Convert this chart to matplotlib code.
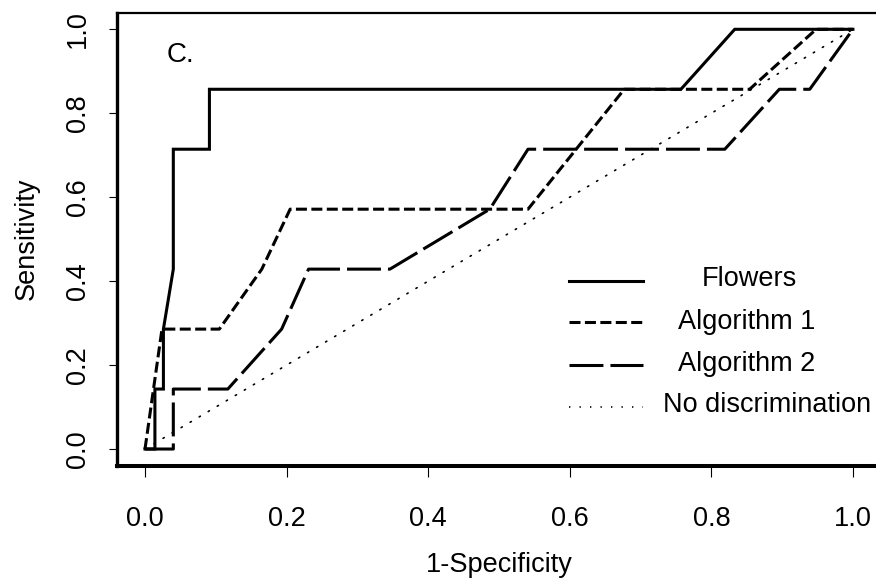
import matplotlib
matplotlib.use("Agg")
import matplotlib.pyplot as plt

plt.rcParams["font.family"] = ["Liberation Sans", "DejaVu Sans"]

# ROC curves (1-specificity, sensitivity)
fpr_flowers = [0, 0.014, 0.014, 0.026, 0.026, 0.040, 0.040, 0.091, 0.091, 0.757, 0.833, 1.0]
tpr_flowers = [0, 0, 0.1429, 0.1429, 0.2857, 0.4286, 0.7143, 0.7143, 0.8571, 0.8571, 1.0, 1.0]

fpr_alg1 = [0, 0.024, 0.105, 0.165, 0.205, 0.541, 0.677, 0.854, 0.948, 1.0]
tpr_alg1 = [0, 0.2857, 0.2857, 0.4286, 0.5714, 0.5714, 0.8571, 0.8571, 1.0, 1.0]

fpr_alg2 = [0, 0.040, 0.040, 0.078, 0.117, 0.193, 0.231, 0.346, 0.487, 0.541,
            0.819, 0.896, 0.939, 1.0]
tpr_alg2 = [0, 0, 0.1429, 0.1429, 0.1429, 0.2857, 0.4286, 0.4286, 0.5714, 0.7143,
            0.7143, 0.8571, 0.8571, 1.0]

diag = [0, 1]

ticks = [0.0, 0.2, 0.4, 0.6, 0.8, 1.0]
tick_labels = ["0.0", "0.2", "0.4", "0.6", "0.8", "1.0"]
legend_labels = ["Flowers", "Algorithm 1", "Algorithm 2", "No discrimination"]

styles = {
    "solid": dict(linestyle="-", linewidth=2.2),
    "short": dict(linestyle=(0, (3.6, 1.45)), linewidth=2.2),
    "long": dict(linestyle=(0, (11.1, 2.3)), linewidth=2.2),
    "dot": dict(linestyle=(0, (0.8, 5.5)), linewidth=1.2),
}

fig = plt.figure(figsize=(8.76, 5.79), dpi=100)
ax = fig.add_axes([0.1332, 0.1955, 0.8728, 0.7829])

ax.plot(fpr_flowers, tpr_flowers, color="black", solid_joinstyle="miter", **styles["solid"])
ax.plot(fpr_alg1, tpr_alg1, color="black", **styles["short"])
ax.plot(fpr_alg2, tpr_alg2, color="black", **styles["long"])
ax.plot(diag, diag, color="black", dash_capstyle="round", **styles["dot"])

ax.set_xlim(-0.04, 1.04)
ax.set_ylim(-0.04, 1.04)
ax.set_xticks(ticks)
ax.set_xticklabels(tick_labels)
ax.set_yticks(ticks)
ax.set_yticklabels(tick_labels)

ax.tick_params(axis="x", direction="out", length=8, width=0.8, pad=20.9, labelsize=19.5)
ax.tick_params(axis="y", direction="out", length=6, width=0.8, pad=12.3, labelsize=19.5,
               labelrotation=90)
for lab in ax.get_yticklabels():
    lab.set_verticalalignment("center")

ax.spines["top"].set_linewidth(1.6)
ax.spines["right"].set_linewidth(1.6)
ax.spines["left"].set_linewidth(2.4)
ax.spines["bottom"].set_linewidth(2.9)

ax.set_xlabel("1-Specificity", fontsize=19.5)
ax.xaxis.set_label_coords(0.5, -0.1895)
ax.set_ylabel("Sensitivity", fontsize=19.5)
ax.yaxis.set_label_coords(-0.1007, 0.5)

ax.text(0.0654, 0.8915, "C.", fontsize=20, transform=ax.transAxes, va="baseline")

# legend drawn by hand
row_y = [0.4083, 0.3166, 0.2224, 0.1304]
text_y = [0.3966, 0.3018, 0.2092, 0.1193]
text_x = [0.7651, 0.7339, 0.7339, 0.7149]
for key, label, ly, ty, tx in zip(["solid", "short", "long", "dot"], legend_labels,
                                  row_y, text_y, text_x):
    ax.plot([0.592, 0.688], [ly, ly], color="black", transform=ax.transAxes,
            clip_on=False, **styles[key])
    ax.text(tx, ty, label, fontsize=19.5, transform=ax.transAxes, va="baseline")

fig.savefig("out.png", dpi=100)
